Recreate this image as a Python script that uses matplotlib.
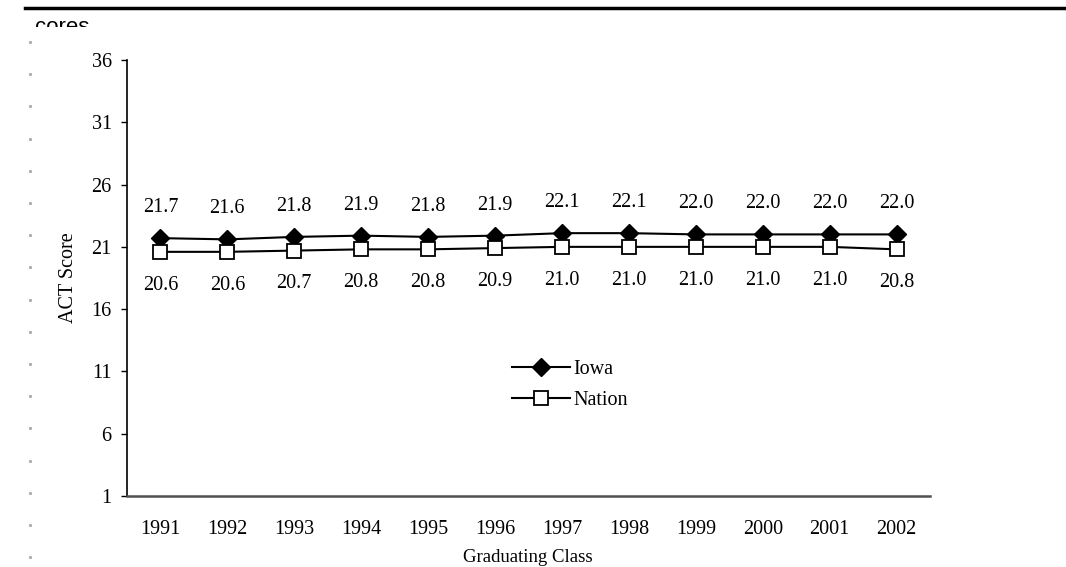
import numpy as np
import matplotlib.pyplot as plt
from matplotlib.patches import Rectangle

# ACT scores by graduating class
years = ['1991', '1992', '1993', '1994', '1995', '1996',
         '1997', '1998', '1999', '2000', '2001', '2002']
iowa = [21.7, 21.6, 21.8, 21.9, 21.8, 21.9, 22.1, 22.1, 22.0, 22.0, 22.0, 22.0]
nation = [20.6, 20.6, 20.7, 20.8, 20.8, 20.9, 21.0, 21.0, 21.0, 21.0, 21.0, 20.8]
yticks = [1, 6, 11, 16, 21, 26, 31, 36]

plt.rcParams['font.family'] = ['Liberation Serif', 'DejaVu Serif']
FS = 14.5

fig = plt.figure(figsize=(10.66, 5.67), dpi=100)
W, H = 1066, 567
ax = fig.add_axes([127 / W, 1 - 496 / H, (930 - 127) / W, (496 - 60) / H])

x = np.arange(len(years))
ax.plot(x, iowa, color='black', lw=1.5, marker='D', markersize=9.5,
        markerfacecolor='black', markeredgecolor='black', label='Iowa')
ax.plot(x, nation, color='black', lw=1.5, marker='s', markersize=10,
        markerfacecolor='white', markeredgecolor='black', markeredgewidth=1.3,
        label='Nation')

for i in range(len(years)):
    ax.annotate(f'{iowa[i]:.1f}', (x[i], iowa[i]), xytext=(0, 22),
                textcoords='offset points', ha='center', va='center', fontsize=FS)
    ax.annotate(f'{nation[i]:.1f}', (x[i], nation[i]), xytext=(0, -24),
                textcoords='offset points', ha='center', va='center', fontsize=FS)

ax.set_xlim(-0.5, len(years) - 0.5)
ax.set_ylim(1, 36)
ax.set_yticks(yticks)
ax.set_xticks(x)
ax.set_xticklabels(years)
ax.tick_params(axis='y', direction='out', length=4, width=1, labelsize=FS, pad=7)
ax.tick_params(axis='x', length=0, labelsize=FS, pad=17)
ax.spines['top'].set_visible(False)
ax.spines['right'].set_visible(False)
ax.spines['left'].set_linewidth(1.2)
ax.spines['bottom'].set_color('#505050')
ax.spines['bottom'].set_linewidth(1.8)

ax.set_ylabel('ACT Score', fontsize=FS, labelpad=10)
fig.text(528 / W, 1 - 557 / H, 'Graduating Class', ha='center', va='center', fontsize=13.5)

ax.legend(loc='center', bbox_to_anchor=((570 - 127) / (930 - 127), (496 - 385) / (496 - 60)),
          frameon=False, fontsize=FS, handlelength=2.9, handletextpad=0.15,
          labelspacing=0.6)

# top rule and cut-off heading
fig.add_artist(plt.Line2D([25 / W, 1], [1 - 8 / H, 1 - 8 / H], color='black', lw=2.5))
fig.text(35 / W, 1 - 33 / H, 'cores', family='Liberation Sans', fontsize=16,
         ha='left', va='baseline')
fig.add_artist(Rectangle((0, 1 - 40 / H), 300 / W, 13 / H, transform=fig.transFigure,
                         facecolor='white', edgecolor='none', zorder=10))

# dotted margin column
for k in range(17):
    yy = 42 + k * 32.2
    fig.add_artist(plt.Line2D([30 / W], [1 - yy / H], marker='s', markersize=1.2,
                              color='#b0b0b0', lw=0))

fig.savefig('out.png', dpi=100)
